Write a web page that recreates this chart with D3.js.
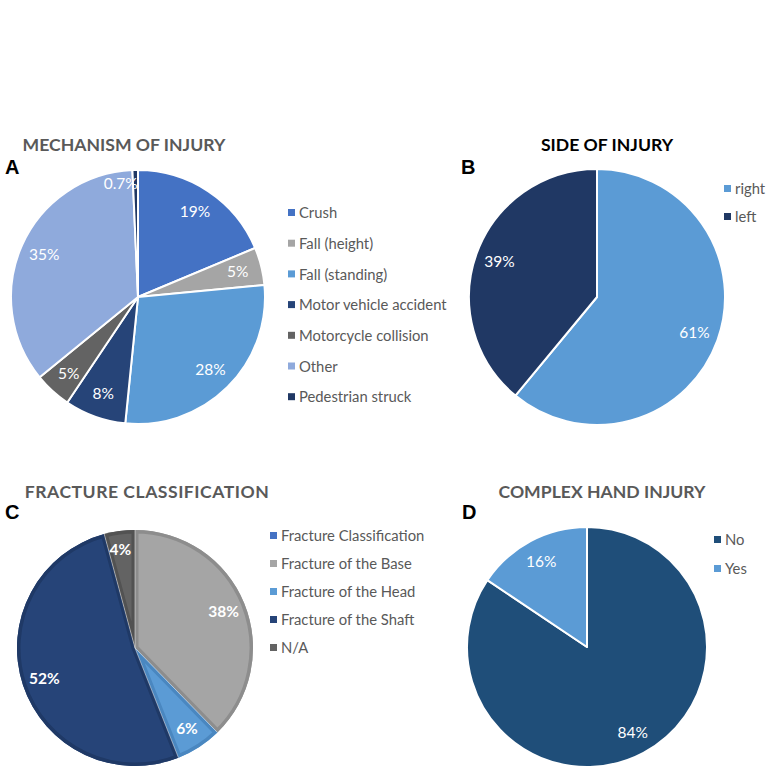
<!DOCTYPE html>
<html><head><meta charset="utf-8">
<script src="https://cdn.jsdelivr.net/npm/d3@7"></script>
<style>body{margin:0;background:#fff}svg{display:block}</style>
</head><body>
<svg id="c" width="774" height="774"></svg>
<script>
// ---- data ----
const mechCategories = ["Crush","Fall (height)","Fall (standing)","Motor vehicle accident","Motorcycle collision","Other","Pedestrian struck"];
const mechValues = [18.7, 4.8, 28.1, 7.8, 4.7, 35.2, 0.7];
const mechLabels = ["19%","5%","28%","8%","5%","35%","0.7%"];
const mechColors = ["#4472C4","#A5A5A5","#5B9BD5","#264478","#636363","#8FAADC","#203864"];

const sideCategories = ["right","left"];
const sideValues = [61, 39];
const sideLabels = ["61%","39%"];
const sideColors = ["#5B9BD5","#203864"];

const fracCategories = ["Fracture Classification","Fracture of the Base","Fracture of the Head","Fracture of the Shaft","N/A"];
const fracValues = [0, 37.7, 6.3, 51.8, 4.2];
const fracLabels = ["","38%","6%","52%","4%"];
const fracColors = ["#4472C4","#A5A5A5","#5B9BD5","#264478","#636363"];
const fracBorders = ["#3a63ad","#8d8d8d","#4a87c0","#1f3966","#525252"];

const complexCategories = ["No","Yes"];
const complexValues = [84.4, 15.6];
const complexLabels = ["84%","16%"];
const complexColors = ["#1F4E79","#5B9BD5"];

const FONT = "Lato, 'Liberation Sans', sans-serif";
const svg = d3.select("#c");

function drawPie(cfg){
  const g = svg.append("g").attr("transform", `translate(${cfg.cx},${cfg.cy})`);
  const pie = d3.pie().sort(null).value(d => d.v);
  const data = cfg.values.map((v,i)=>({v, c:cfg.colors[i], l:cfg.labels[i], i}));
  const arcs = pie(data);
  const arc = d3.arc().innerRadius(0).outerRadius(cfg.r);
  const labelArc = d3.arc().innerRadius(cfg.r*0.81).outerRadius(cfg.r*0.81);
  const shown = arcs.filter(a => a.data.v > 0);
  if (cfg.borders) {
    shown.forEach(a => {
      const id = cfg.id + "clip" + a.data.i;
      g.append("clipPath").attr("id", id).append("path").attr("d", arc(a));
      g.append("path").attr("d", arc(a)).attr("fill", a.data.c);
      g.append("path").attr("d", arc(a)).attr("fill","none")
        .attr("stroke", cfg.borders[a.data.i]).attr("stroke-width", 7)
        .attr("clip-path", `url(#${id})`);
    });
    g.selectAll("line.sep").data(shown).join("line")
      .attr("x1",0).attr("y1",0)
      .attr("x2", a => cfg.r*Math.sin(a.startAngle))
      .attr("y2", a => -cfg.r*Math.cos(a.startAngle))
      .attr("stroke","#fff").attr("stroke-width",0.8).attr("opacity",0.6);
  } else {
    g.selectAll("path.s").data(shown).join("path")
      .attr("d", arc).attr("fill", a => a.data.c)
      .attr("stroke","#fff").attr("stroke-width", 2).attr("stroke-linejoin","round");
  }
  g.selectAll("text.l").data(shown).join("text")
    .attr("transform", a => {
      const p = labelArc.centroid(a);
      const off = cfg.labelOffset && cfg.labelOffset[a.data.i] || [0,0];
      return `translate(${p[0]+off[0]},${p[1]+off[1]})`;
    })
    .attr("text-anchor","middle").attr("dy","0.35em")
    .attr("fill","#fff").attr("font-family",FONT)
    .attr("font-size", cfg.labelSize).attr("font-weight", cfg.labelWeight || "normal")
    .text(a => a.data.l);

  // title
  svg.append("text").attr("x", cfg.tx).attr("y", cfg.ty).attr("text-anchor","middle")
    .attr("font-family",FONT).attr("font-weight","bold").attr("font-size",cfg.titleSize||17.6)
    .attr("letter-spacing", cfg.titleSpacing||0)
    .attr("fill", cfg.titleColor).text(cfg.title);
  svg.append("text").attr("x", cfg.lx).attr("y", cfg.ly)
    .attr("font-family","'Liberation Sans', Arial, sans-serif").attr("font-weight","bold").attr("font-size",20)
    .attr("fill","#000").text(cfg.letter);

  // legend
  const lg = svg.append("g").attr("transform", `translate(${cfg.legX},${cfg.legY})`);
  const items = lg.selectAll("g").data(cfg.categories).join("g")
    .attr("transform",(d,i)=>`translate(0,${i*cfg.legStep})`);
  items.append("rect").attr("x",0).attr("y",-4).attr("width",7).attr("height",7)
    .attr("fill",(d,i)=>cfg.colors[i]);
  items.append("text").attr("x",11).attr("y",0).attr("dy","0.35em")
    .attr("font-family",FONT).attr("font-size",14.8).attr("fill","#595959").text(d=>d);
}

drawPie({id:"a", cx:138, cy:297, r:127, values:mechValues, colors:mechColors, labels:mechLabels,
  categories:mechCategories, labelSize:15.5,
  labelOffset:{6:[-15,-11]},
  title:"MECHANISM OF INJURY", tx:124, ty:151, titleColor:"#595959",
  letter:"A", lx:5, ly:174,
  legX:288, legY:213, legStep:30.7});

drawPie({id:"b", cx:597, cy:297, r:128, values:sideValues, colors:sideColors, labels:sideLabels,
  categories:sideCategories, labelSize:15.5,
  title:"SIDE OF INJURY", tx:607, ty:151, titleColor:"#000",
  letter:"B", lx:461, ly:174,
  legX:724, legY:189, legStep:28});

drawPie({id:"c", cx:135, cy:648, r:118, values:fracValues, colors:fracColors, labels:fracLabels,
  categories:fracCategories, labelSize:15.5, labelWeight:"bold", borders:fracBorders,
  labelOffset:{4:[-2,-4]},
  title:"FRACTURE CLASSIFICATION", tx:147, ty:498, titleColor:"#595959", titleSpacing:0.5,
  letter:"C", lx:5, ly:519,
  legX:270, legY:536, legStep:28});

drawPie({id:"d", cx:587, cy:647, r:120, values:complexValues, colors:complexColors, labels:complexLabels,
  categories:complexCategories, labelSize:15.5,
  title:"COMPLEX HAND INJURY", tx:602, ty:498, titleColor:"#595959",
  letter:"D", lx:462, ly:519,
  legX:714, legY:540, legStep:29});
</script>
</body></html>
